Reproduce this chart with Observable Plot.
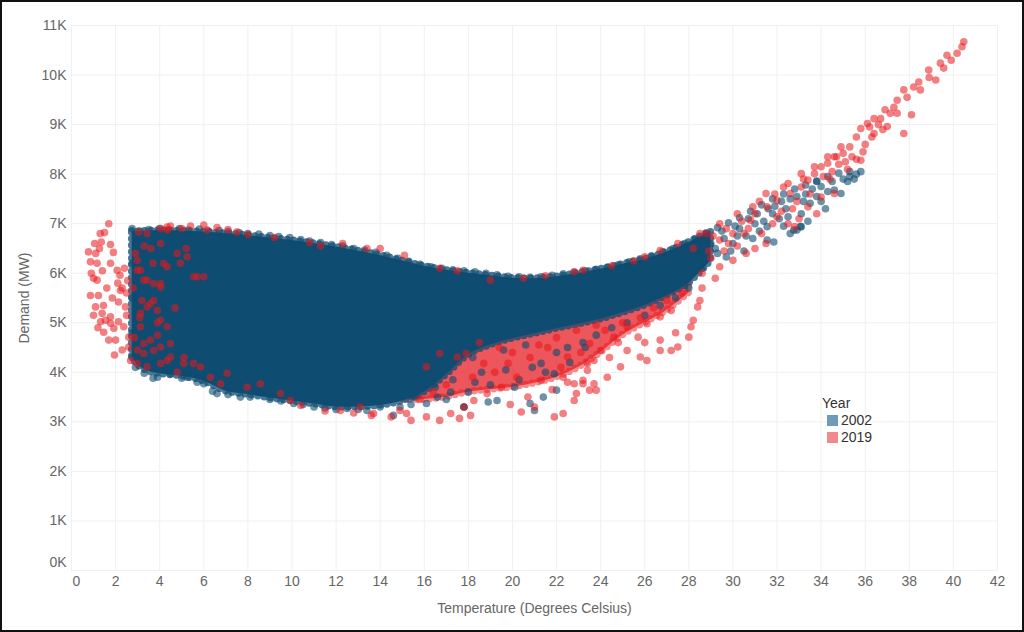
<!DOCTYPE html>
<html><head><meta charset="utf-8">
<script src="https://cdn.jsdelivr.net/npm/d3@7"></script>
<script src="https://cdn.jsdelivr.net/npm/@observablehq/plot@0.6"></script>
<style>
body{margin:0;background:#fff;}
#wrap{position:relative;width:1024px;height:632px;overflow:hidden;font-family:Arial,"Liberation Sans",sans-serif;background:#fff;}
#wrap svg{position:absolute;left:0;top:0;}
#frame{position:absolute;left:0;top:0;width:1024px;height:632px;box-sizing:border-box;border:2px solid #111;pointer-events:none;}
#legend{position:absolute;left:822px;top:395px;font-size:14px;color:#333;line-height:17px;}
#legend .row{display:flex;align-items:center;}
#legend .sw{display:inline-block;width:11px;height:11px;margin:0 3px 0 5px;}
</style>
</head><body>
<div id="wrap"><div id="chart"></div>
<div id="legend"><div>Year</div>
<div class="row"><span class="sw" style="background:#6f9bba"></span>2002</div>
<div class="row"><span class="sw" style="background:#f2898a"></span>2019</div></div>
<div id="frame"></div></div>
<script>
// Axis ticks
const xTicks = [0,2,4,6,8,10,12,14,16,18,20,22,24,26,28,30,32,34,36,38,40,42];
const yTicks = [0,1000,2000,3000,4000,5000,6000,7000,8000,9000,10000,11000];

// Dense 2002 core (temperature °C, demand in K MW)
const coreT      = [2.75,3,3.5,4,5,6,7,8,9,10,11,12,13,14,15,16,17,18,19,20,21,22,23,24,25,26,27,28,29];
const coreTop    = [6.85,6.84,6.85,6.86,6.85,6.83,6.8,6.76,6.71,6.66,6.6,6.53,6.45,6.36,6.25,6.14,6.06,6.0,5.95,5.9,5.89,5.93,6.0,6.08,6.18,6.28,6.43,6.62,6.85];
const coreBottom = [4.3,4.15,4.02,3.97,3.92,3.82,3.62,3.55,3.48,3.42,3.36,3.3,3.3,3.33,3.42,3.6,3.95,4.35,4.55,4.68,4.78,4.88,4.97,5.07,5.2,5.35,5.55,5.8,6.25];

// Dense mixed 2019 zone below the 2002 core (temperature °C, demand in K MW)
const mixT      = [15,16,17,18,19,20,21,22,23,24,25,26,27,28];
const mixTop    = [3.6,3.8,4.1,4.5,4.7,4.8,4.9,5.0,5.08,5.15,5.28,5.42,5.6,5.85];
const mixBottom = [3.45,3.45,3.5,3.6,3.65,3.7,3.78,3.9,4.1,4.4,4.75,5.0,5.25,5.6];

// 2002 individual points [temperature, demand K]
const blue2002 = [
[2.75,6.9],[3.1,6.85],[3.5,6.88],[4.0,6.9],[4.4,6.86],[4.9,6.9],[5.3,6.87],[5.8,6.89],[6.2,6.85],[6.7,6.86],[7.1,6.84],[7.6,6.82],[8.0,6.8],[8.5,6.79],[9.0,6.76],[9.4,6.74],[9.9,6.72],[10.4,6.68],[10.8,6.65],[11.3,6.62],[11.8,6.58],[12.3,6.55],[12.8,6.5],[13.3,6.47],[13.8,6.42],[14.3,6.36],[14.8,6.3],[15.3,6.24],[15.8,6.18],[16.3,6.13],[16.8,6.1],[17.3,6.07],[17.8,6.05],[18.3,6.03],[18.8,6.0],[19.3,5.97],[19.8,5.94],[20.3,5.93],[20.8,5.92],[21.3,5.93],[21.8,5.96],[22.3,5.99],[22.8,6.02],[23.3,6.05],[23.8,6.08],[24.3,6.12],[24.8,6.17],[25.3,6.23],[25.8,6.29],[26.3,6.35],[26.8,6.43],[27.3,6.5],[27.8,6.6],[28.3,6.7],[28.8,6.8],[29.3,6.92],[29.8,7.02],[30.3,7.12],[30.8,7.25],[31.3,7.38],[31.8,7.5],[32.3,7.6],[32.8,7.7],[33.3,7.78],[33.8,7.86],[34.3,7.95],[34.8,8.02],[35.3,8.05],[35.6,8.0],
[29.2,6.5],[29.6,6.7],[30.0,6.6],[30.3,6.9],[30.6,6.75],[31.0,7.0],[31.2,6.85],[31.55,6.94],[31.8,7.2],[32.1,7.1],[32.5,7.14],[32.9,6.87],[33.1,6.94],[33.1,7.2],[33.5,7.41],[33.8,7.55],[34.2,7.3],[34.6,7.68],[34.9,7.61],[35.2,7.85],[35.3,7.95],[35.8,8.05],[33.8,7.85],[30.5,6.45],[31.55,6.67],[31.85,6.63],[32.6,6.8],[33.06,6.94],[32.76,6.87],[29.7,6.33],[28.6,6.1],
[29.0,6.6],[29.5,6.85],[30.1,6.95],[30.7,7.1],[31.1,7.2],[31.4,7.05],[31.9,7.35],[32.2,7.45],[32.4,7.3],[32.9,7.55],[33.3,7.6],[33.6,7.7],[34.0,7.75],[34.5,7.85],[35.0,7.9],[30.9,6.7],[29.9,6.45],[34.0,7.45],[33.4,7.05],[32.3,6.95],
[28.5,6.4],[29.3,6.4],[30.2,6.75],[31.6,7.3],[32.6,7.5],[33.2,7.45],[34.3,7.65],[35.5,7.9],
[2.75,4.3],[2.9,4.1],[3.3,3.98],[3.7,3.88],[3.9,3.9],[4.5,3.97],[5.0,3.88],[5.25,3.9],[5.7,3.8],[6.0,3.77],[6.4,3.62],[6.6,3.57],[7.1,3.55],[7.66,3.5],[8.1,3.5],[8.57,3.6],[9.0,3.45],[9.5,3.42],[10.08,3.37],[10.5,3.35],[11.0,3.3],[11.5,3.28],[12.0,3.25],[12.5,3.27],[13.0,3.25],[13.4,3.23],[14.0,3.3],[14.6,3.13],[14.9,3.3],[15.4,3.35],[16.1,3.37],[16.6,3.5],[17.2,3.6],[17.8,3.3],[18.3,3.8],[19.3,3.43],[20.1,3.7],[21.0,3.23],[21.3,4.18],[21.9,3.97],[22.5,4.5],[23.2,4.6],[23.8,4.75],[24.5,4.9],[25.2,5.0],[26.0,5.15],[26.7,5.35],[27.4,5.5],[28.0,5.7],[2.75,5.5],[2.75,6.2],[2.75,4.8],
[16.5,3.7],[17.3,3.85],[18.0,3.6],[18.6,4.0],[19.0,3.75],[19.7,4.05],[20.3,3.85],[20.9,4.1],[21.5,4.0],[22.0,4.4],[22.6,4.2],[23.3,4.5],[17.0,3.45],[18.9,3.4],[21.4,3.5],[15.6,3.5],[17.8,3.3],[20.8,3.37],[22.0,3.64],[18.2,4.3],[19.6,4.45],[20.6,4.55]
];

// 2019 individual points [temperature, demand K]
const red2019 = [
[1.69,7.0],[1.3,6.8],[1.5,6.82],[1.35,6.63],[1.77,6.58],[0.77,6.43],[1.1,6.4],[1.27,6.5],[1.9,6.42],[0.86,6.23],[1.16,6.2],[1.77,6.2],[2.07,6.06],[2.2,5.96],[1.0,5.9],[1.16,5.86],[2.1,5.8],[2.3,5.7],[0.86,5.55],[1.22,5.55],[2.22,5.65],[2.5,5.6],[1.09,5.32],[1.45,5.35],[2.13,5.42],[2.45,5.32],[1.0,5.15],[1.39,5.19],[1.77,5.12],[2.5,5.15],[1.32,5.02],[1.54,5.05],[1.77,4.99],[2.13,5.02],[1.46,4.81],[1.92,4.89],[2.37,4.92],[2.6,4.71],[1.69,4.65],[2.0,4.65],[2.6,4.51],[2.68,4.24],
[0.9,6.0],[1.05,6.6],[1.4,6.05],[1.6,5.7],[1.85,5.5],[2.4,6.1],[2.55,5.85],[1.2,4.9],[2.3,4.45],[1.95,4.35],
[2.98,6.06],[3.28,5.86],[3.2,5.45],[3.43,5.32],[3.73,5.45],[4.04,5.79],[4.34,6.13],[3.13,4.92],[3.58,4.65],[4.04,4.51],[4.49,4.58],[3.28,4.38],[4.18,6.2],[4.94,6.2],[5.55,5.93],[6.0,5.93],[3.05,6.83],[3.43,6.8],[4.04,6.9],[2.9,6.4],[3.1,5.1],[2.85,4.7],[3.6,6.5],[3.9,5.0],[4.7,5.3],[5.2,6.5],[2.8,5.7],[3.0,4.45],
[2.98,6.26],[3.13,6.06],[3.43,5.86],[3.73,5.79],[4.04,5.72],[3.58,5.39],[3.89,5.25],[3.13,5.19],[4.04,5.05],[4.34,4.92],[3.28,4.58],[3.73,4.44],[4.49,4.31],[5.09,4.18],[4.79,6.4],[5.25,6.33],[5.7,5.93],[4.04,6.6],[4.34,6.87],[3.3,6.55],[3.7,6.2],[3.9,4.75],
[4.34,6.93],[4.49,6.95],[5.4,6.95],[6.0,6.97],[6.15,6.87],[7.5,6.83],[5.0,6.9],[6.6,6.92],[7.1,6.88],[8.0,6.78],[9.2,6.72],[10.8,6.62],[11.3,6.55],
[2.98,4.18],[3.43,4.11],[4.04,4.18],[4.34,4.24],[5.53,4.18],[5.85,4.11],[6.76,3.77],[7.06,3.98],[7.97,3.7],[8.57,3.77],[9.48,3.57],[4.8,4.0],[5.1,4.3],[6.3,3.9],
[9.93,3.43],[10.4,3.33],[12.2,3.23],[13.6,3.13],[14.9,3.23],[15.4,3.03],[16.7,3.03],[17.6,3.07],[18.1,3.13],[13.7,3.17],[14.5,3.1],[15.2,3.17],[16.1,3.1],[17.2,3.17],[13.1,3.3],[11.5,3.22],[12.8,3.18],
[13.4,6.5],[14.0,6.5],[15.1,6.36],[16.7,6.1],[19.0,5.86],[22.8,6.03],[23.2,6.06],[12.3,6.6],[17.5,6.05],[20.5,5.9],[21.5,5.95],[24.5,6.15],[25.5,6.25],
[22.9,4.85],[23.5,4.58],[23.7,4.24],[23.4,4.04],[23.2,3.77],[23.5,3.64],[22.8,3.43],[22.3,3.17],[21.9,3.1],[21.0,3.3],[20.7,3.5],[21.3,3.84],[20.2,3.9],[19.5,3.7],[18.85,3.57],[18.25,3.43],[17.8,3.3],[19.8,4.18],[18.7,4.18],[17.9,4.38],[17.5,4.31],[16.7,4.38],[16.1,4.11],[18.2,3.9],[19.2,4.0],[20.0,4.4],[20.8,4.3],[21.6,4.5],[22.2,4.1],[22.5,3.8],[21.8,3.65],[20.4,3.2],[19.9,3.35],[17.0,3.75],[16.4,3.6],[15.8,3.45],[21.2,4.55],[22.0,4.7],[19.4,4.5],[18.5,4.6],
[28.5,5.45],[28.4,5.32],[28.2,5.05],[28.1,4.92],[28.0,4.71],[27.5,4.51],[27.2,4.44],[26.7,4.44],[26.1,4.24],[25.8,4.31],[25.2,4.44],[24.9,4.11],[24.3,3.9],[23.7,3.77],[23.8,3.64],[23.2,3.84],[22.9,3.57],[22.8,3.77],[26.7,4.65],[25.7,4.71],[26.1,4.98],[26.7,5.12],[27.2,5.25],[25.2,4.92],[24.6,4.71],[24.0,4.44],[23.4,4.18],[22.5,4.31],[22.3,3.9],[24.2,4.85],[25.0,5.0],[25.8,5.1],[26.4,5.3],[27.0,5.45],[27.7,5.6],[28.6,5.7],[29.2,5.9],[23.8,4.95],[24.8,4.6],[26.0,4.6],[27.4,4.8],[24.4,4.3],[23.1,4.4],
[40.47,10.67],[40.39,10.57],[40.17,10.44],[39.71,10.4],[39.41,10.24],[39.56,10.14],[38.88,10.1],[38.43,9.86],[38.2,9.76],[37.75,9.7],[38.5,9.7],[37.45,9.49],[37.14,9.23],[36.7,9.12],[36.4,9.12],[36.1,9.02],[35.8,8.92],[37.45,9.23],[37.0,8.96],[37.75,8.82],[36.4,8.82],[35.6,8.75],[35.3,8.55],[34.9,8.55],[34.6,8.35],[34.3,8.22],[34.0,8.15],[33.7,8.01],[33.4,7.88],[33.1,7.74],[32.6,7.61],[35.8,8.28],[34.7,8.35],[32.3,7.74],[32.0,7.47],[31.55,7.34],[30.8,7.07],[30.0,6.8],[29.4,6.67],[28.8,6.8],
[26.0,6.33],[26.7,6.46],[27.5,6.6],[28.5,6.8],[29.4,7.0],[30.2,7.2],[30.9,7.34],[31.5,7.61],[32.5,7.81],[33.1,8.01],[33.7,8.15],[34.3,8.35],[35.0,8.42],
[29.4,6.13],[30.0,6.26],[30.6,6.4],[31.5,6.6],[32.5,7.0],[32.8,6.94],[33.4,7.34],[34.0,7.54],[34.6,7.61],[30.5,6.8],[32.0,7.14],[29.0,6.3],[28.6,6.0],[31.0,6.5],[33.8,7.2],[35.2,8.1],[35.6,8.3],[36.0,8.6],[34.4,7.9],
[29.1,6.75],[29.7,6.9],[30.4,7.05],[31.2,7.45],[31.8,7.0],[32.2,7.25],[32.9,7.45],[33.5,7.6],[34.1,7.95],[34.8,8.2],[35.4,8.35],[36.3,8.75],[36.8,8.9],[30.2,6.55],[31.3,6.8],[28.9,6.45],[29.8,6.6],[33.0,7.1],[35.9,8.45],[36.6,9.0],
[28.2,6.5],[29.6,6.45],[30.7,6.9],[31.0,7.2],[31.9,7.6],[32.7,7.3],[33.2,7.9],[34.5,8.05],[35.1,8.25],[36.2,8.95],[37.3,9.35],[37.9,9.55],[38.9,9.95],[39.2,9.9],[39.9,10.3],[38.1,9.2],[36.9,9.3]
];

const core = coreT.map((t, i) => ({t, top: coreTop[i] * 1000, bottom: coreBottom[i] * 1000}));
const mix = mixT.map((t, i) => ({t, top: mixTop[i] * 1000, bottom: mixBottom[i] * 1000}));
const font = "Arial, 'Liberation Sans', sans-serif";
const dotted = {strokeWidth: 7.4, strokeDasharray: "0 6.5", strokeLinecap: "round", strokeLinejoin: "round"};
const tickStyle = {tickSize: 0, fill: "#666", fontSize: 14};

const chart = Plot.plot({
  width: 1024, height: 632,
  marginLeft: 71, marginRight: 27, marginTop: 25, marginBottom: 62,
  style: {fontFamily: font, fontSize: "14px", background: "transparent", color: "#666"},
  x: {domain: [0, 42]},
  y: {domain: [0, 11000]},
  marks: [
    Plot.gridX(xTicks, {stroke: "#f0f0f0", strokeOpacity: 1}),
    Plot.gridY(yTicks, {stroke: "#f0f0f0", strokeOpacity: 1}),
    Plot.axisX(xTicks.slice(1), {...tickStyle, tickPadding: 6,
      label: "Temperature (Degrees Celsius)", labelAnchor: "center", labelOffset: 42, labelArrow: "none"}),
    Plot.axisX(xTicks.slice(0, 1), {...tickStyle, tickPadding: 6, dx: 5, label: null}),
    Plot.axisY(yTicks.slice(1), {...tickStyle, tickPadding: 5, tickFormat: d => d / 1000 + "K",
      label: "Demand (MW)", labelAnchor: "center", labelOffset: 52, labelArrow: "none"}),
    Plot.axisY(yTicks.slice(0, 1), {...tickStyle, tickPadding: 5, dy: -8, tickFormat: d => d / 1000 + "K", label: null}),
    Plot.areaY(mix, {x: "t", y1: "bottom", y2: "top", fill: "#e8262c", fillOpacity: 0.78, stroke: "#e8171e", strokeOpacity: 0.5, ...dotted, curve: "catmull-rom"}),
    Plot.areaY(core, {x: "t", y1: "bottom", y2: "top", fill: "#0f4c71", stroke: "#0f4c71", strokeOpacity: 0.75, ...dotted, curve: "catmull-rom"}),
    Plot.dot(blue2002, {x: d => d[0], y: d => d[1] * 1000, r: 3.8, fill: "#0d4b70", fillOpacity: 0.6, stroke: "none"}),
    Plot.dot(red2019, {x: d => d[0], y: d => d[1] * 1000, r: 3.8, fill: "#e8171e", fillOpacity: 0.55, stroke: "none"})
  ]
});
document.getElementById("chart").appendChild(chart);
</script>
</body></html>
